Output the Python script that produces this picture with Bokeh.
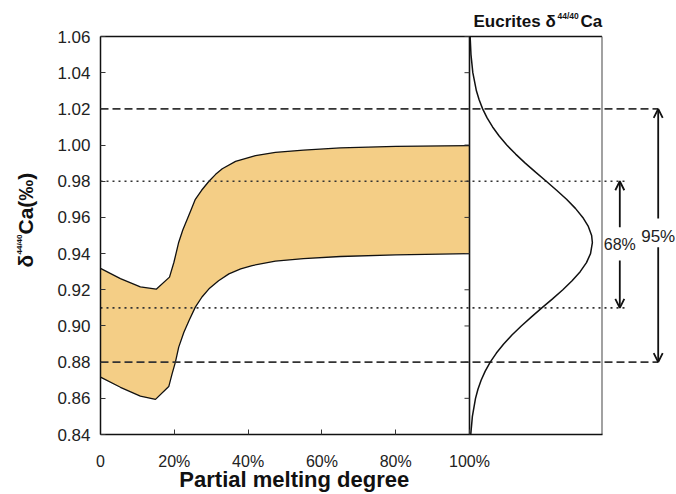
import math
from bokeh.plotting import figure
from bokeh.models import Range1d, FixedTicker, Label, Arrow, OpenHead, LinearAxis
from bokeh.embed import file_html
from bokeh.resources import INLINE

# ---------------- data ----------------
x_ticks = [0, 20, 40, 60, 80, 100]
x_tick_labels = ["0", "20%", "40%", "60%", "80%", "100%"]
y_ticks = [0.84, 0.86, 0.88, 0.90, 0.92, 0.94, 0.96, 0.98, 1.00, 1.02, 1.04, 1.06]
y_tick_labels = ["0.84", "0.86", "0.88", "0.90", "0.92", "0.94", "0.96", "0.98", "1.00", "1.02", "1.04", "1.06"]

# upper boundary of the modelled band (partial melting %, delta)
upper_x = [0, 5.4, 10.8, 15.1, 18.7, 19.9, 21.2, 22.3, 23.5, 24.5, 25.7, 27.4, 29.4, 31.2,
           33.0, 36.6, 42.0, 47.4, 55, 65, 80, 100]
upper_y = [0.9318, 0.9262, 0.9216, 0.9203, 0.927, 0.9352, 0.9463, 0.953, 0.959, 0.964, 0.970,
           0.975, 0.980, 0.9838, 0.9869, 0.991, 0.9942, 0.996, 0.9972, 0.9984, 0.9993, 0.9997]
# lower boundary
lower_x = [0, 5.4, 10.8, 14.9, 18.5, 19.4, 20.3, 21.2, 22.6, 24.0, 25.7, 27.5, 29.4, 32.0,
           34.8, 38.0, 41.1, 47.4, 55, 65, 80, 100]
lower_y = [0.8717, 0.8661, 0.8612, 0.8594, 0.8665, 0.8735, 0.880, 0.8883, 0.8965, 0.903, 0.9104,
           0.916, 0.9205, 0.925, 0.9288, 0.9315, 0.9334, 0.9358, 0.9372, 0.9384, 0.9393, 0.940]

# eucrite distribution curve (delta value, relative density width)
dist_y = [0.84, 0.85, 0.86, 0.865, 0.87, 0.875, 0.88, 0.885, 0.89, 0.895, 0.90, 0.905, 0.91,
          0.915, 0.92, 0.925, 0.93, 0.935, 0.94, 0.946, 0.95, 0.955, 0.96, 0.965, 0.97, 0.975,
          0.98, 0.985, 0.99, 0.995, 1.00, 1.005, 1.01, 1.015, 1.02, 1.025, 1.03, 1.04, 1.05, 1.06]
dist_w = [0.34, 0.78, 1.63, 2.29, 3.15, 4.26, 5.62, 7.29, 9.26, 11.5, 14.04, 16.8, 19.6,
          22.5, 25.3, 27.8, 30.0, 31.7, 32.8, 33.3, 33.1, 32.2, 30.7, 28.7, 26.3, 23.6,
          20.8, 17.9, 15.1, 12.5, 10.1, 8.04, 6.26, 4.77, 3.56, 2.61, 1.87, 0.90, 0.40, 0.17]

range95 = [0.88, 1.02]
range68 = [0.91, 0.98]
label95 = "95%"
label68 = "68%"

# ---------------- layout helpers ----------------
W, H = 676, 494
X0PX, XSCALE = 100, 3.69          # px of x=0, px per x unit
Y0PX, YSCALE = 36, 1809.1         # px of y=1.06, px per y unit


def xd(px):
    return (px - X0PX) / XSCALE


def yd(py):
    return 1.06 - (py - Y0PX) / YSCALE


FONT = "Liberation Sans"
box_right = xd(601.5)
divider = x_ticks[-1]

p = figure(width=W, height=H, x_range=Range1d(xd(0), xd(W)), y_range=Range1d(yd(H), yd(0)),
           output_backend="svg", toolbar_location=None, x_axis_type=None, y_axis_type=None,
           min_border_left=0, min_border_right=0, min_border_top=0, min_border_bottom=0)
p.xgrid.visible = False
p.ygrid.visible = False
p.outline_line_color = None
p.background_fill_color = "white"
p.border_fill_color = "white"

xa = LinearAxis(fixed_location=y_ticks[0])
xa.ticker = FixedTicker(ticks=x_ticks)
xa.major_label_overrides = dict(zip(x_ticks, x_tick_labels))
xa.bounds = (0, box_right)
xa.major_tick_in = 5
xa.major_tick_out = 0
xa.minor_tick_line_color = None
xa.axis_line_width = 1.5
xa.axis_line_color = "#111111"
xa.major_tick_line_color = "#333333"
xa.major_label_text_font = FONT
xa.major_label_text_font_size = "16px"
xa.major_label_text_color = "#222222"
xa.major_label_standoff = 18
p.add_layout(xa, "below")

ya = LinearAxis(fixed_location=0)
ya.ticker = FixedTicker(ticks=y_ticks)
ya.major_label_overrides = dict(zip(y_ticks, y_tick_labels))
ya.bounds = (y_ticks[0], y_ticks[-1])
ya.major_tick_in = 5
ya.major_tick_out = 0
ya.minor_tick_line_color = None
ya.axis_line_width = 1.5
ya.axis_line_color = "#111111"
ya.major_tick_line_color = "#333333"
ya.major_label_text_font = FONT
ya.major_label_text_font_size = "17px"
ya.major_label_text_color = "#222222"
ya.major_label_standoff = 10
p.add_layout(ya, "left")

# band
p.patch(x=upper_x + lower_x[::-1], y=upper_y + lower_y[::-1], fill_color="#F4CE86",
        line_color=None)
p.line(upper_x, upper_y, line_color="#111111", line_width=1.3)
p.line(lower_x, lower_y, line_color="#111111", line_width=1.3)

# reference lines
dash_end = xd(657.5)
dot_end = xd(627)
p.segment(x0=[0] * 2, x1=[dash_end] * 2, y0=range95, y1=range95,
          line_color="#333333", line_width=1.6, line_dash="8 4")
p.segment(x0=[0] * 2, x1=[dot_end] * 2, y0=range68, y1=range68,
          line_color="#333333", line_width=1.6, line_dash="2 4")

# box borders
p.line([0, box_right], [y_ticks[-1]] * 2, line_color="#111111", line_width=1.5)
p.line([box_right] * 2, [y_ticks[0], y_ticks[-1]], line_color="#555555", line_width=1.1)
p.line([divider] * 2, [y_ticks[0], y_ticks[-1]], line_color="#111111", line_width=1.6)
tick_len = 5 / XSCALE
p.segment(x0=[divider - tick_len] * len(y_ticks), x1=[divider] * len(y_ticks),
          y0=y_ticks, y1=y_ticks, line_color="#333333", line_width=1)

# distribution curve
p.line([divider + w for w in dist_w], dist_y, line_color="#111111", line_width=1.5)

# arrows
a68 = xd(619.3)
a95 = xd(657.7)
for (x, y0, y1) in [(a68, yd(226.7), range68[1]), (a68, yd(260), range68[0]),
                    (a95, yd(218), range95[1]), (a95, yd(246.7), range95[0])]:
    p.add_layout(Arrow(end=OpenHead(size=9, line_width=1.8, line_color="#111111"),
                       x_start=x, y_start=y0, x_end=x, y_end=y1,
                       line_width=1.8, line_color="#111111"))
p.add_layout(Label(x=a68, y=yd(243.5), text=label68, text_align="center",
                   text_baseline="middle", text_font=FONT, text_font_size="16px",
                   text_color="#222222"))
p.add_layout(Label(x=a95, y=yd(235.5), text=label95, text_align="center",
                   text_baseline="middle", text_font=FONT, text_font_size="17px",
                   text_color="#222222"))


def lab(px, py, text, size, angle=0.0, align="left"):
    p.add_layout(Label(x=xd(px), y=yd(py), text=text, text_align=align,
                       text_baseline="middle", text_font=FONT, text_font_size=size,
                       text_font_style="bold", text_color="#111111", angle=angle))


# title of the right panel
lab(473, 21, "Eucrites", "17px")
lab(545, 21, "δ", "17px")
lab(557, 15.5, "44/40", "8.5px")
lab(580, 21, "Ca", "17px")

# y axis title (rotated; reads bottom to top)
rot = math.pi / 2
lab(24.5, 267, "δ", "21px", rot)
lab(18.5, 254, "44/40", "8px", rot)
lab(24.5, 234, "Ca(‰)", "21px", rot)

# x axis title
lab(293.8, 479, "Partial melting degree", "22px", align="center")

open("out.html", "w").write(file_html(p, INLINE))
